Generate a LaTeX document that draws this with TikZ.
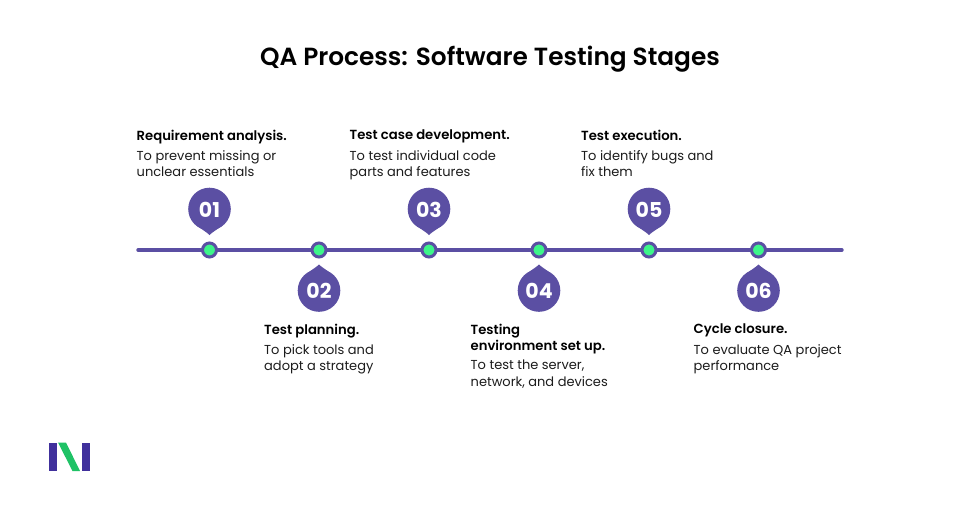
\documentclass[tikz,border=0pt]{standalone}
\usepackage{fontspec}
\setmainfont{Poppins}
\definecolor{brandpurple}{HTML}{5B4FA3}
\definecolor{brandgreen}{HTML}{3DF58A}
\definecolor{logoblue}{HTML}{40309C}
\definecolor{logogreen}{HTML}{1FC266}
\definecolor{inktext}{HTML}{1C1C1C}
\newfontfamily\headfont{Poppins SemiBold}
\newfontfamily\numfont{Poppins Bold}
\tikzset{
  px/.style={x=1pt,y=-1pt},
  heading/.style={anchor=north west,inner sep=0pt,align=left,text=black,font=\headfont\fontsize{13.2}{16.2}\selectfont},
  bodytext/.style={anchor=north west,inner sep=0pt,align=left,text=inktext,font=\fontsize{13}{16.6}\selectfont},
  numeral/.style={text=white,inner sep=0pt,font=\numfont\fontsize{20.5}{20.5}\selectfont},
  dot/.style={circle,fill=brandgreen,draw=brandpurple,line width=3pt,minimum size=14pt,inner sep=0pt},
  timeline/.style={draw=brandpurple,line width=3.4pt,line cap=round},
}
% Teardrop marker: circle of radius 21.3 whose tip points to the timeline.
\newcommand{\pinup}[2]{%
  \fill[brandpurple] (#1,#2) circle[radius=21.3];
  \fill[brandpurple] (#1-12,#2+17) .. controls (#1-7,#2+21) and (#1-3,#2+23) .. (#1,#2+26)
    .. controls (#1+3,#2+23) and (#1+7,#2+21) .. (#1+12,#2+17) -- cycle;}
\newcommand{\pindown}[2]{%
  \fill[brandpurple] (#1,#2) circle[radius=21.3];
  \fill[brandpurple] (#1-12,#2-17) .. controls (#1-7,#2-21) and (#1-3,#2-23) .. (#1,#2-26)
    .. controls (#1+3,#2-23) and (#1+7,#2-21) .. (#1+12,#2-17) -- cycle;}
\begin{document}
\begin{tikzpicture}[px]
  \useasboundingbox[fill=white] (0,0) rectangle (980,512);

  \node[anchor=center,inner sep=0pt,text=black,font=\headfont\fontsize{24.8}{28}\selectfont] (title) at (490,59) {QA Process: Software Testing Stages};

  % Timeline
  \coordinate (linestart) at (138,250);
  \coordinate (lineend) at (842,250);
  \draw[timeline] (linestart) -- (lineend);

  % Teardrop markers
  \pinup{209.5}{209}
  \pindown{319}{290.5}
  \pinup{429}{209}
  \pindown{539}{290.5}
  \pinup{649}{209}
  \pindown{758.5}{290.5}

  \node[numeral] (n1) at (209.5,210) {01};
  \node[numeral] (n2) at (319,291) {02};
  \node[numeral] (n3) at (429,210) {03};
  \node[numeral] (n4) at (539,291) {04};
  \node[numeral] (n5) at (649,210) {05};
  \node[numeral] (n6) at (758.5,291) {06};

  % Stops on the timeline
  \node[dot] (d1) at (209.5,250) {};
  \node[dot] (d2) at (319,250) {};
  \node[dot] (d3) at (429,250) {};
  \node[dot] (d4) at (539,250) {};
  \node[dot] (d5) at (649,250) {};
  \node[dot] (d6) at (758.5,250) {};

  % Stage captions
  \node[heading] (h1) at (136.5,129.5) {Requirement analysis.};
  \node[bodytext] (b1) at (136.5,150) {To prevent missing or\\unclear essentials};
  \node[heading] (h2) at (264,323.5) {Test planning.};
  \node[bodytext] (b2) at (264,344) {To pick tools and\\adopt a strategy};
  \node[heading] (h3) at (349.5,129.5) {Test case development.};
  \node[bodytext] (b3) at (349.5,150) {To test individual code\\parts and features};
  \node[heading] (h4) at (470.5,323.5) {Testing\\environment set up.};
  \node[bodytext] (b4) at (470.5,360) {To test the server,\\network, and devices};
  \node[heading] (h5) at (581,129.5) {Test execution.};
  \node[bodytext] (b5) at (581,150) {To identify bugs and\\fix them};
  \node[heading] (h6) at (693.5,323.5) {Cycle closure.};
  \node[bodytext] (b6) at (693.5,344) {To evaluate QA project\\performance};

  % Logo mark
  \fill[logoblue] (49,442.5) rectangle (57,471);
  \fill[logogreen] (58,442.5) -- (66,442.5) -- (80,471) -- (72.5,471) -- cycle;
  \fill[logoblue] (82,442.5) rectangle (89.5,471);
\end{tikzpicture}
\end{document}
